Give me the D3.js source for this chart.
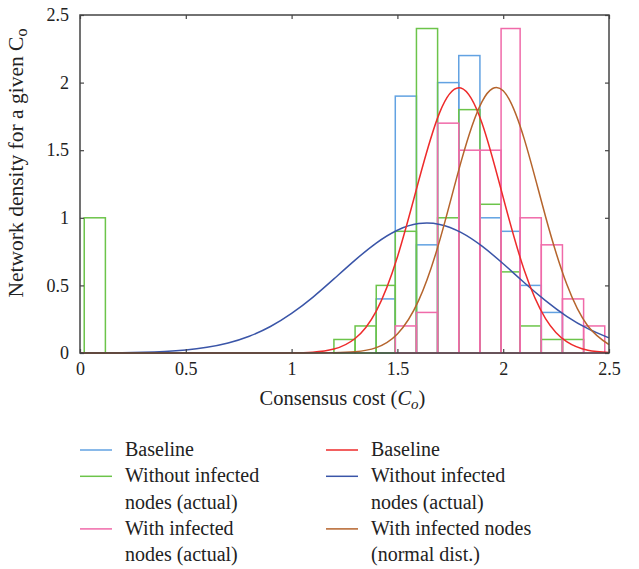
<!DOCTYPE html>
<html>
<head>
<meta charset="utf-8">
<script src="https://cdn.jsdelivr.net/npm/d3@7"></script>
<style>
  body { margin: 0; background: #fff; }
  svg text { font-family: "Liberation Serif", "Times New Roman", "DejaVu Serif", serif; fill: #222; }
</style>
</head>
<body>
<div class="chart"></div>
<script>
var svgWidth = 639;
var svgHeight = 569;

var margin = { top: 15, right: 30, bottom: 216, left: 80 };
var width = svgWidth - margin.left - margin.right;
var height = svgHeight - margin.top - margin.bottom;

var serif = "'Liberation Serif', 'Times New Roman', 'DejaVu Serif', serif";

// histogram bin edges
var binEdges = [1.20, 1.30, 1.40, 1.49, 1.59, 1.69, 1.79, 1.89, 1.99, 2.08, 2.18, 2.28, 2.38, 2.48];

// bar heights per bin (one value per bin between consecutive edges)
var baselineBars = [0, 0, 0.4, 1.9, 0.8, 2.0, 2.2, 1.0, 0.9, 0.5, 0.3, 0, 0];
var withoutBars = [0.1, 0.2, 0.5, 0.9, 2.4, 1.0, 1.8, 1.1, 0.6, 0.2, 0.1, 0.1, 0];
var withBars = [0, 0, 0, 0.2, 0.3, 1.7, 1.5, 1.5, 2.4, 1.0, 0.8, 0.4, 0.2];

// the lone green bar near zero
var withoutLowBin = { x0: 0.02, x1: 0.12, y: 1.0 };

// fitted curves, read at sample points
var curveX = [0, 0.1, 0.2, 0.3, 0.4, 0.5, 0.6, 0.7, 0.8, 0.9, 1.0, 1.1, 1.2, 1.3, 1.4, 1.5, 1.6, 1.7, 1.8, 1.9, 2.0, 2.1, 2.2, 2.3, 2.4, 2.5];
var baselineFit = [0, 0, 0, 0, 0, 0, 0, 0, 0, 0, 0.001, 0.006, 0.029, 0.107, 0.31, 0.71, 1.27, 1.78, 1.96, 1.70, 1.15, 0.61, 0.255, 0.084, 0.021, 0.004];
var withoutFit = [0.0004, 0.001, 0.002, 0.005, 0.011, 0.022, 0.042, 0.074, 0.124, 0.196, 0.293, 0.412, 0.548, 0.687, 0.813, 0.908, 0.957, 0.951, 0.892, 0.790, 0.660, 0.520, 0.387, 0.271, 0.180, 0.112];
var withFit = [0, 0, 0, 0, 0, 0, 0, 0, 0, 0, 0, 0, 0.002, 0.009, 0.040, 0.141, 0.387, 0.833, 1.41, 1.86, 1.94, 1.58, 1.01, 0.51, 0.20, 0.062];

var xTicks = [0, 0.5, 1, 1.5, 2, 2.5];
var yTicks = [0, 0.5, 1, 1.5, 2, 2.5];

var colors = {
  baseBar: "#62a2e2",
  withoutBar: "#6cc44a",
  withBar: "#f06aa9",
  baseFit: "#ee2b2b",
  withoutFit: "#3a55a8",
  withFit: "#b5642c"
};

var svg = d3.select(".chart")
  .append("svg")
  .attr("width", svgWidth)
  .attr("height", svgHeight)
  .attr("font-family", serif);

var chartGroup = svg.append("g")
  .attr("transform", `translate(${margin.left}, ${margin.top})`);

var x = d3.scaleLinear().domain([0, 2.5]).range([0, width]);
var y = d3.scaleLinear().domain([0, 2.5]).range([height, 0]);

function toBins(values) {
  return values.map(function (v, i) {
    return { x0: binEdges[i], x1: binEdges[i + 1], y: v };
  }).filter(function (d) { return d.y > 0; });
}

function drawBars(bins, color) {
  chartGroup.append("g")
    .selectAll("rect")
    .data(bins)
    .enter().append("rect")
    .attr("x", d => x(d.x0))
    .attr("y", d => y(d.y))
    .attr("width", d => x(d.x1) - x(d.x0))
    .attr("height", d => y(0) - y(d.y))
    .attr("fill", "none")
    .attr("stroke", color)
    .attr("stroke-width", 1.5);
}

drawBars(toBins(baselineBars), colors.baseBar);
drawBars(toBins(withoutBars).concat([withoutLowBin]), colors.withoutBar);
drawBars(toBins(withBars), colors.withBar);

var drawLine = d3.line()
  .x(d => x(d[0]))
  .y(d => y(d[1]))
  .curve(d3.curveNatural);

[[withoutFit, colors.withoutFit], [baselineFit, colors.baseFit], [withFit, colors.withFit]].forEach(function (s) {
  chartGroup.append("path")
    .attr("d", drawLine(curveX.map((v, i) => [v, s[0][i]])))
    .attr("fill", "none")
    .attr("stroke", s[1])
    .attr("stroke-width", 1.5);
});

// axes, box and ticks
var axisColor = "#444";
chartGroup.append("rect")
  .attr("width", width)
  .attr("height", height)
  .attr("fill", "none")
  .attr("stroke", axisColor)
  .attr("stroke-width", 1.5);

var bottomAxis = d3.axisBottom(x).tickValues(xTicks).tickSize(-4).tickPadding(9).tickFormat(d3.format("~g"));
var leftAxis = d3.axisLeft(y).tickValues(yTicks).tickSize(-4).tickPadding(11).tickFormat(d3.format("~g"));
var topAxis = d3.axisTop(x).tickValues(xTicks).tickSize(-4).tickFormat("");
var rightAxis = d3.axisRight(y).tickValues(yTicks).tickSize(-4).tickFormat("");

function styleAxis(g) {
  g.attr("font-family", serif);
  g.select(".domain").remove();
  g.selectAll(".tick line").attr("stroke", axisColor).attr("stroke-width", 1.2);
  g.selectAll("text").attr("font-size", 18).attr("fill", "#222");
}

chartGroup.append("g").attr("transform", `translate(0, ${height})`).call(bottomAxis).call(styleAxis);
chartGroup.append("g").call(leftAxis).call(styleAxis);
chartGroup.append("g").call(topAxis).call(styleAxis);
chartGroup.append("g").attr("transform", `translate(${width}, 0)`).call(rightAxis).call(styleAxis);

// axis titles
var xTitle = chartGroup.append("text")
  .attr("x", width / 2 - 2)
  .attr("y", height + 52)
  .attr("text-anchor", "middle")
  .attr("font-size", 20.5);
xTitle.append("tspan").text("Consensus cost (");
xTitle.append("tspan").attr("font-style", "italic").text("C");
xTitle.append("tspan").attr("font-style", "italic").attr("font-size", 15).attr("dy", 4).text("o");
xTitle.append("tspan").attr("dy", -4).text(")");

var yTitle = chartGroup.append("text")
  .attr("transform", `translate(-57, ${height / 2 - 21}) rotate(-90)`)
  .attr("text-anchor", "middle")
  .attr("font-size", 21.5);
yTitle.append("tspan").text("Network density for a given C");
yTitle.append("tspan").attr("font-size", 16).attr("dy", 4).text("o");

// legend
var legendItems = [
  { col: 0, row: 0, color: colors.baseBar, lines: ["Baseline"] },
  { col: 0, row: 1, color: colors.withoutBar, lines: ["Without infected", "nodes (actual)"] },
  { col: 0, row: 3, color: colors.withBar, lines: ["With infected", "nodes (actual)"] },
  { col: 1, row: 0, color: colors.baseFit, lines: ["Baseline"] },
  { col: 1, row: 1, color: colors.withoutFit, lines: ["Without infected", "nodes (actual)"] },
  { col: 1, row: 3, color: colors.withFit, lines: ["With infected nodes", "(normal dist.)"] }
];

var legend = svg.append("g").attr("transform", "translate(80, 450)");
var rowH = 26.3;
var colW = 246;

var items = legend.selectAll("g")
  .data(legendItems)
  .enter().append("g")
  .attr("transform", d => `translate(${d.col * colW}, ${d.row * rowH})`);

items.append("line")
  .attr("x1", 0).attr("x2", 32)
  .attr("y1", 0).attr("y2", 0)
  .attr("stroke", d => d.color)
  .attr("stroke-width", 1.5);

items.each(function (d) {
  var t = d3.select(this).append("text")
    .attr("x", 45)
    .attr("y", 6)
    .attr("font-size", 20);
  d.lines.forEach(function (l, i) {
    t.append("tspan").attr("x", 45).attr("dy", i === 0 ? 0 : rowH).text(l);
  });
});
</script>
</body>
</html>
